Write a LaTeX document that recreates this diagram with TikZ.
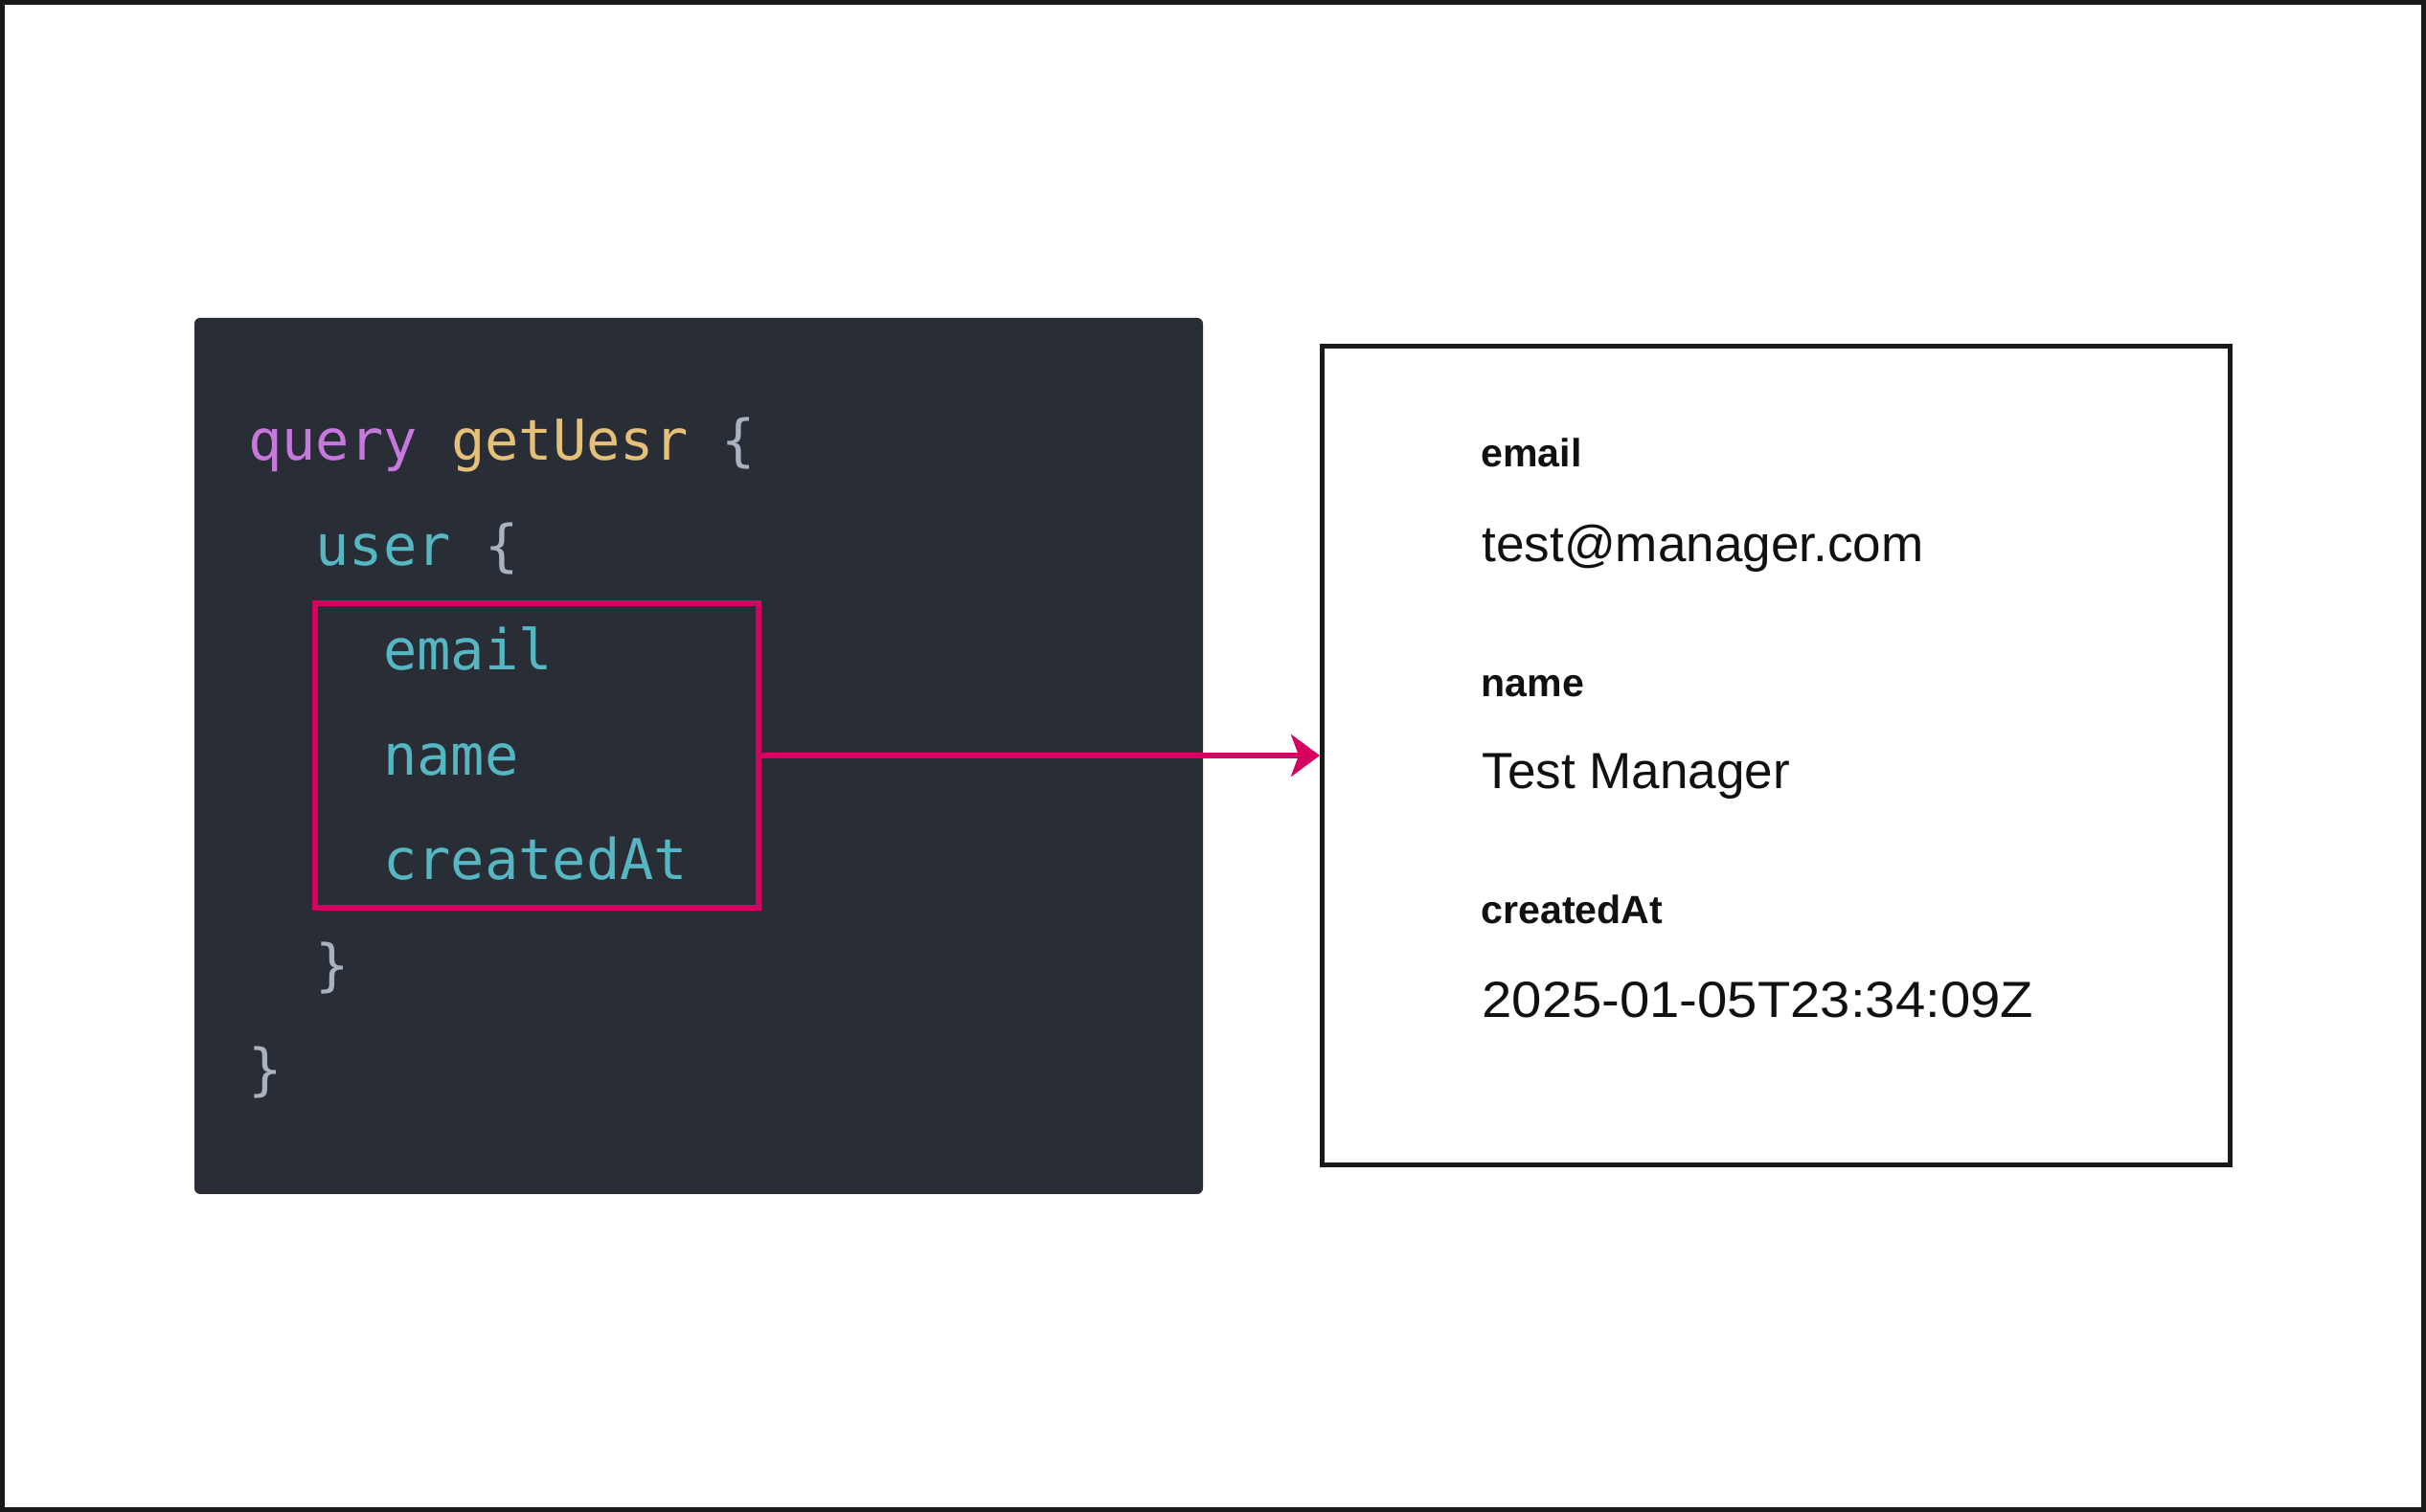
\documentclass[tikz,border=0pt]{standalone}
\usepackage{fontspec}
\setmainfont{Liberation Sans}
\newfontfamily\codefont{DejaVu Sans Mono}
\usepackage{graphicx}
\usetikzlibrary{arrows.meta}

\definecolor{codebg}{RGB}{41,45,54}
\definecolor{kwpurple}{RGB}{198,120,221}
\definecolor{fnyellow}{RGB}{229,192,123}
\definecolor{fieldteal}{RGB}{86,182,194}
\definecolor{bracegray}{RGB}{171,178,191}
\definecolor{hlpink}{RGB}{214,0,96}
\definecolor{framegray}{RGB}{26,26,26}
\definecolor{inkblack}{RGB}{17,17,17}

\begin{document}
\begin{tikzpicture}[>={Stealth[length=0.3cm,width=0.44cm,inset=0.08cm]},
                    semithick]
  \tikzstyle{codeline}=[anchor=base west,inner sep=0pt,
                        font=\codefont\fontsize{16.7pt}{20pt}\selectfont]
  \tikzstyle{fieldlabel}=[anchor=base west,inner sep=0pt,text=inkblack,
                          font=\fontsize{11.7pt}{14pt}\selectfont\bfseries]
  \tikzstyle{fieldvalue}=[anchor=base west,inner sep=0pt,text=inkblack,
                          font=\fontsize{15.1pt}{18pt}\selectfont]
  \tikzstyle{fieldbox}=[draw=hlpink,line width=0.06cm,
                        minimum width=4.63cm,minimum height=3.18cm]
  \tikzstyle{resultbox}=[draw=framegray,line width=0.05cm,
                         minimum width=9.48cm,minimum height=8.55cm]
  \tikzstyle{link}=[->,draw=hlpink,line width=0.06cm]

  \useasboundingbox (0,0) rectangle (25.33,15.79);
  \draw[framegray,line width=0.05cm] (0.025,0.025) rectangle (25.305,15.765);

  % code panel
  \fill[codebg,rounded corners=0.06cm] (2.03,3.32) rectangle (12.56,12.47);

  \node[codeline] (query)   at (2.58,10.98)  {\color{kwpurple}query {\color{fnyellow}getUesr} {\color{bracegray}\{}};
  \node[codeline] (user)    at (3.285,9.885) {\color{fieldteal}user {\color{bracegray}\{}};
  \node[codeline] (email)   at (3.99,8.79)   {\color{fieldteal}email};
  \node[codeline] (name)    at (3.99,7.695)  {\color{fieldteal}name};
  \node[codeline] (created) at (3.99,6.60)   {\color{fieldteal}createdAt};
  \node[codeline] (userend) at (3.285,5.505) {\color{bracegray}\}};
  \node[codeline] (queryend) at (2.58,4.41)  {\color{bracegray}\}};

  \node[fieldbox]  (fields) at (5.605,7.90) {};

  % result panel
  \node[resultbox] (result) at (18.545,7.90) {};

  \node[fieldlabel] (lblemail)   at (15.455,10.91) {email};
  \node[fieldvalue] (valemail)   at (15.465,9.92)  {test@manager.com};
  \node[fieldlabel] (lblname)    at (15.455,8.51)  {name};
  \node[fieldvalue] (valname)    at (15.465,7.55)  {Test Manager};
  \node[fieldlabel] (lblcreated) at (15.455,6.14)  {createdAt};
  \node[fieldvalue] (valcreated) at (15.465,5.16)  {\scalebox{1.06}[1]{2025-01-05T23:34:09Z}};

  \draw[link] (fields.east) -- (result.west);
\end{tikzpicture}
\end{document}
